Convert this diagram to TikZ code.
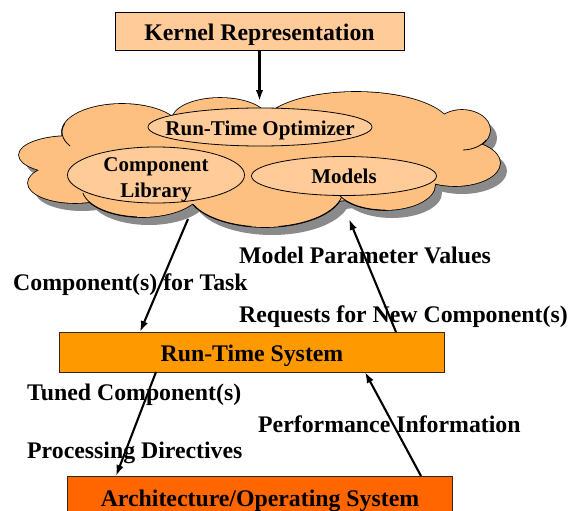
\documentclass[tikz,border=0pt]{standalone}
\usepackage{fontspec}
\setmainfont{Liberation Serif}
\usetikzlibrary{arrows.meta,shapes.geometric}
\definecolor{peach}{HTML}{FFCC99}
\definecolor{cloudfill}{HTML}{FEC080}
\definecolor{rtsfill}{HTML}{FF9900}
\definecolor{archfill}{HTML}{FF6600}
\definecolor{shadowgray}{HTML}{8A8A8A}
\begin{document}
\begin{tikzpicture}[x=1pt,y=-1pt,
  bigfont/.style={font=\fontsize{23.8}{26}\selectfont\bfseries},
  smallfont/.style={font=\fontsize{21}{25}\selectfont\bfseries},
  layerbox/.style={draw=black, line width=0.8pt, inner sep=0pt, rectangle},
  part/.style={draw=black, line width=0.8pt, fill=peach, ellipse, inner sep=0pt, smallfont, align=center},
  label/.style={bigfont, inner sep=0pt, anchor=base west},
  flow/.style={line width=2.1pt, -{Latex[length=11pt,width=7.5pt]}}]
\clip (0,0) rectangle (570,511);

% layer boxes
\node[layerbox, fill=peach, minimum width=289pt, minimum height=38pt] (kernel) at (259.5,31) {};
\node[bigfont, anchor=base] at (259.5,41) {Kernel Representation};
\node[layerbox, fill=rtsfill, draw=black!70!brown, minimum width=385pt, minimum height=40pt] (rts) at (252,352) {};
\node[bigfont, anchor=base] at (252,361) {Run-Time System};
\node[layerbox, fill=archfill, draw=black!70!brown, minimum width=385pt, minimum height=60pt] (arch) at (260,506) {};
\node[bigfont, anchor=base] at (260,506) {Architecture/Operating System};

% cloud built from overlapping lobes: shadow, outline, then fill
\def\lobes{122/132/60/28, 220/120/48/22, 356/128/95/36, 462/130/28/20,
  455/163/45/23, 385/185/50/25, 265/190/78/37, 142/188/60/29,
  75/183/47/20, 70/155/51/19, 260/160/190/45}
\foreach \cx/\cy/\rx/\ry in \lobes
  \fill[shadowgray] (\cx+7,\cy+8) ellipse [x radius=\rx, y radius=\ry];
\foreach \cx/\cy/\rx/\ry in \lobes
  \draw[line width=1.6pt] (\cx,\cy) ellipse [x radius=\rx, y radius=\ry];
\foreach \cx/\cy/\rx/\ry in \lobes
  \fill[cloudfill] (\cx,\cy) ellipse [x radius=\rx, y radius=\ry];
% short inner creases where lobes meet
\foreach \cx/\cy/\rx/\ry/\a/\b in {462/130/28/20/30/88, 265/190/78/37/100/157,
  265/190/78/37/12/80, 122/132/60/28/150/198, 356/128/95/36/185/215,
  385/185/50/25/90/175, 142/188/60/29/95/170}
  \draw[line width=0.8pt] ({\cx+\rx*cos(\a)},{\cy+\ry*sin(\a)}) arc [start angle=\a, end angle=\b, x radius=\rx, y radius=\ry];

% parts inside the cloud
\node[part, minimum width=224pt, minimum height=38pt] (opt) at (260,127) {};
\node[smallfont, anchor=base] at (260,135) {Run-Time Optimizer};
\node[part, minimum width=177pt, minimum height=56pt] (lib) at (156,175) {};
\node[smallfont, anchor=base] at (156,171) {Component};
\node[smallfont, anchor=base] at (156,197) {Library};
\node[part, minimum width=185pt, minimum height=39pt] (models) at (344,176) {};
\node[smallfont, anchor=base] at (344,183) {Models};

% connector labels
\node[label] (l1) at (239,263) {Model Parameter Values};
\node[label] (l2) at (13,290) {Component(s) for Task};
\node[label] (l3) at (239,322) {Requests for New Component(s)};
\node[label] (l4) at (27,400) {Tuned Component(s)};
\node[label] (l5) at (258,432) {Performance Information};
\node[label] (l6) at (27,458) {Processing Directives};

% attachment points
\coordinate (cloudtop) at (259.5,101);
\coordinate (cloudout) at (188,219);
\coordinate (cloudin) at (349,219);
\coordinate (rtsin) at (140,332);
\coordinate (rtsout) at (396,332);
\coordinate (rtsdown) at (156,372);
\coordinate (rtsup) at (365,372);
\coordinate (archin) at (116,476);
\coordinate (archout) at (421,476);

% connectors
\draw[flow] (kernel.south) -- (cloudtop);
\draw[flow] (cloudout) -- (rtsin);
\draw[flow] (rtsout) -- (cloudin);
\draw[flow] (rtsdown) -- (archin);
\draw[flow] (archout) -- (rtsup);
\end{tikzpicture}
\end{document}
